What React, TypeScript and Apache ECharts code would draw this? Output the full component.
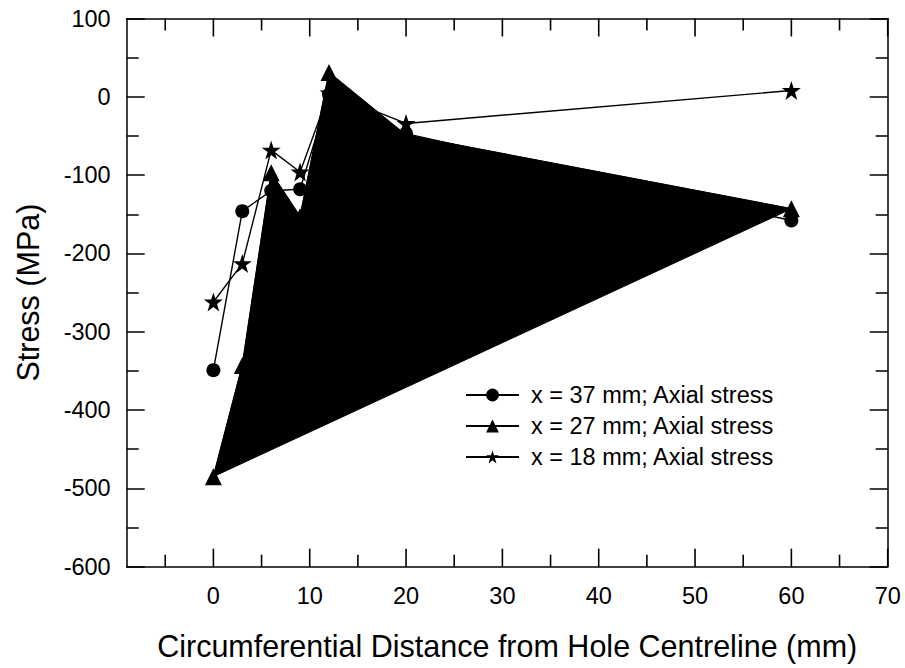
import React, { useEffect, useRef } from "react";
import * as echarts from "echarts";

const distances = [0, 3, 6, 9, 12, 20, 60];
const stress37 = [-349, -146, -120, -118, 3, -47, -158];
const stress27 = [-485, -343, -97, -153, 31, -49, -143];
const stress18 = [-262, -213, -68, -96, 5, -34, 8];
const seriesNames = [
  "x = 37 mm; Axial stress",
  "x = 27 mm; Axial stress",
  "x = 18 mm; Axial stress",
];
const seriesSymbols = ["circle", "triangle", "path://M50,0 L61.8,35.4 L100,35.4 L69.1,57.3 L80.9,95.1 L50,72 L19.1,95.1 L30.9,57.3 L0,35.4 L38.2,35.4 Z"];
const xMajorTicks = [0, 10, 20, 30, 40, 50, 60, 70];
const xMinorTicks = [-5, 5, 15, 25, 35, 45, 55, 65];
const xMin = -9;
const xMax = 70;
const yMin = -600;
const yMax = 100;
const xTitle = "Circumferential Distance from Hole Centreline (mm)";
const yTitle = "Stress (MPa)";

const FONT = "'Liberation Sans', Arial, Helvetica, sans-serif";
const BLACK = "#000";

export default function App() {
  const ref = useRef<HTMLDivElement>(null);

  useEffect(() => {
    if (!ref.current) return;
    const chart = echarts.init(ref.current, undefined, { renderer: "svg" });

    const axisLine = { show: true, onZero: false, lineStyle: { color: BLACK, width: 1.5 } };
    const tickLine = { color: BLACK, width: 1.5 };

    const makeX = (position: string, withLabel: boolean) => ({
      type: "value",
      position,
      min: xMin,
      max: xMax,
      splitNumber: 8,
      splitLine: { show: false },
      axisLine,
      axisTick: { show: false },
      axisLabel: withLabel
        ? {
            show: true,
            showMinLabel: false,
            showMaxLabel: true,
            fontSize: 23.5,
            margin: 17,
            color: BLACK,
            fontFamily: FONT,
          }
        : { show: false },
    });

    const xAxes: any[] = [
      {
        ...makeX("bottom", true),
        name: xTitle,
        nameLocation: "middle",
        nameGap: 64,
        nameTextStyle: { fontSize: 30.5, color: BLACK, fontFamily: FONT },
      },
      makeX("top", false),
    ];

    const makeY = (position: string, withLabel: boolean) => ({
      type: "value",
      position,
      min: yMin,
      max: yMax,
      interval: 100,
      splitLine: { show: false },
      axisLine,
      axisTick: { show: true, inside: true, length: 18, lineStyle: tickLine },
      minorTick: { show: true, splitNumber: 2, length: 12, lineStyle: tickLine },
      minorSplitLine: { show: false },
      axisLabel: withLabel
        ? { show: true, fontSize: 23.5, margin: 16, color: BLACK, fontFamily: FONT }
        : { show: false },
    });

    const yAxes: any[] = [
      {
        ...makeY("left", true),
        name: yTitle,
        nameLocation: "middle",
        nameGap: 83,
        nameTextStyle: { fontSize: 30.5, color: BLACK, fontFamily: FONT },
      },
      makeY("right", false),
    ];

    const valueSets = [stress37, stress27, stress18];
    const symbolSizes = [14, 17, 19];

    const lineSeries = seriesNames.map((name, k) => ({
      name,
      type: "line",
      xAxisIndex: 0,
      yAxisIndex: 0,
      data: distances.map((d, i) => [d, valueSets[k][i]]),
      symbol: seriesSymbols[k],
      symbolSize: symbolSizes[k],
      showAllSymbol: true,
      itemStyle: { color: BLACK },
      lineStyle: { color: BLACK, width: 1.4 },
      z: 2,
    }));

    const fillSeries = {
      type: "custom",
      xAxisIndex: 0,
      yAxisIndex: 0,
      silent: true,
      z: 3,
      data: [[distances[0], stress27[0]]],
      renderItem: (_params: any, api: any) => {
        const pts = distances.map((d, i) => api.coord([d, stress27[i]]));
        return {
          type: "polygon",
          shape: { points: pts },
          style: { fill: BLACK, stroke: BLACK, lineWidth: 1 },
        };
      },
    };

    chart.setOption({
      animation: false,
      backgroundColor: "#fff",
      textStyle: { fontFamily: FONT, color: BLACK },
      grid: { left: 126.7, right: 17.3, top: 18.5, bottom: 101.3, containLabel: false },
      xAxis: xAxes,
      yAxis: yAxes,
      legend: {
        orient: "vertical",
        left: 460,
        top: 378,
        itemWidth: 53,
        itemHeight: 16,
        itemGap: 7,
        selectedMode: false,
        data: seriesNames,
        textStyle: { fontSize: 23.5, color: BLACK, fontFamily: FONT, padding: [0, 0, 0, 7] },
      },
      series: [...lineSeries, fillSeries],
    });

    // x-axis ticks on the bottom and top frame, positioned through the axis scale
    const tickRects: any[] = [];
    const addTicks = (values: number[], len: number) => {
      values.forEach((v) => {
        const b = chart.convertToPixel({ xAxisIndex: 0, yAxisIndex: 0 }, [v, yMin]) as number[];
        const t = chart.convertToPixel({ xAxisIndex: 0, yAxisIndex: 0 }, [v, yMax]) as number[];
        if (!b || !t) return;
        tickRects.push({
          type: "rect",
          z: 100,
          silent: true,
          shape: { x: b[0] - 0.8, y: b[1] - len, width: 1.6, height: len },
          style: { fill: BLACK },
        });
        tickRects.push({
          type: "rect",
          z: 100,
          silent: true,
          shape: { x: t[0] - 0.8, y: t[1], width: 1.6, height: len },
          style: { fill: BLACK },
        });
      });
    };
    addTicks(xMajorTicks, 18);
    addTicks(xMinorTicks, 12);
    chart.setOption({ graphic: tickRects });

    return () => chart.dispose();
  }, []);

  return (
    <div
      ref={ref}
      style={{ position: "absolute", left: 0, top: 0, width: 905, height: 668 }}
    />
  );
}
